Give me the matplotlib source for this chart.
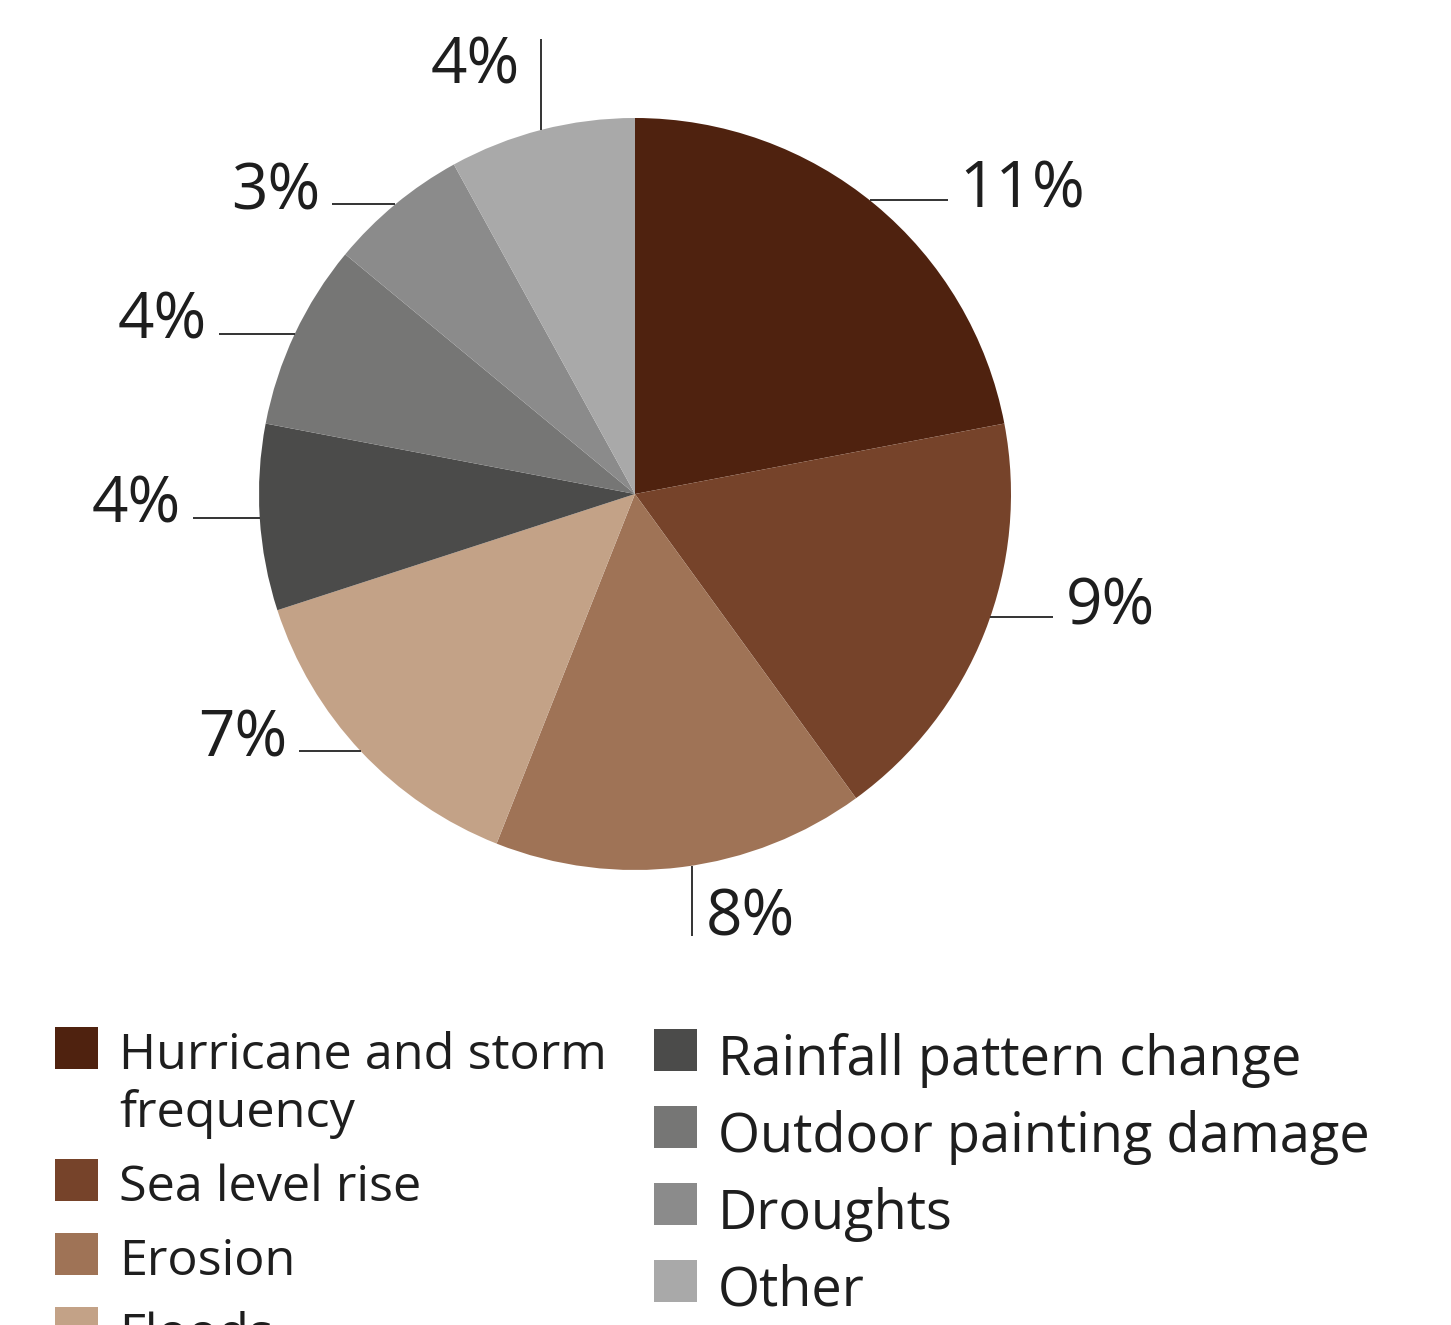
import numpy as np
import matplotlib
matplotlib.use('Agg')
import matplotlib.pyplot as plt
from matplotlib.patches import Rectangle

# Data (percent of respondents)
left_labels = ['Hurricane and storm\nfrequency', 'Sea level rise', 'Erosion', 'Floods']
right_labels = ['Rainfall pattern change', 'Outdoor painting damage', 'Droughts', 'Other']
left_values = [11, 9, 8, 7]
right_values = [4, 4, 3, 4]
left_colors = ['#4f220f', '#76432a', '#9f7356', '#c3a287']
right_colors = ['#4b4b4a', '#767675', '#8b8b8b', '#a9a9a9']

values = left_values + right_values
colors = left_colors + right_colors

# leader line style per slice: direction, length, angle nudge (pixels / degrees)
leaders = [('r', 78, 1.0), ('r', 63, 2.5), ('d', 70, 1.5), ('l', 62, 0),
           ('l', 67, 0), ('l', 76, 0), ('l', 63, 0), ('u', 91, 0)]

plt.rcParams['font.family'] = ['Open Sans', 'DejaVu Sans']
W, H = 1451, 1325
fig = plt.figure(figsize=(W / 100, H / 100), dpi=100)
ax = fig.add_axes([0, 0, 1, 1])

cx, cy, R = 635, H - 494, 376
wedges, _ = ax.pie(values, colors=colors, startangle=90, counterclock=False,
                   center=(cx, cy), radius=R, wedgeprops=dict(linewidth=0))
ax.set_xlim(0, W)
ax.set_ylim(0, H)
ax.set_aspect('auto')
ax.axis('off')

txt = '#1e1e1e'
pfs = 46
for w, v, (d, L, nudge) in zip(wedges, values, leaders):
    ang = np.deg2rad((w.theta1 + w.theta2) / 2 + nudge)
    x0, y0 = cx + R * np.cos(ang), cy + R * np.sin(ang)
    lab = f'{v}%'
    if d == 'r':
        x1, y1 = x0 + L, y0
        ax.text(x1 + 12, y1 - 7, lab, ha='left', va='baseline', fontsize=pfs, color=txt)
    elif d == 'l':
        x1, y1 = x0 - L, y0
        ax.text(x1 - 12, y1 - 5, lab, ha='right', va='baseline', fontsize=pfs, color=txt)
    elif d == 'd':
        x1, y1 = x0, y0 - L
        ax.text(x1 + 14, y1, lab, ha='left', va='baseline', fontsize=pfs, color=txt)
    else:
        x1, y1 = x0, y0 + L
        ax.text(x1 - 22, y1 - 45, lab, ha='right', va='baseline', fontsize=pfs, color=txt)
    ax.plot([x0, x1], [y0, y1], color='#333333', lw=1.4, solid_capstyle='butt')

# legend, drawn by hand in two columns
def legend_col(labels, cols, x_sq, top, step, base_off, fs):
    y = top
    for lab, c in zip(labels, cols):
        ax.add_patch(Rectangle((x_sq, H - y - 42), 43, 42, color=c, lw=0))
        lines = lab.split('\n')
        for i, line in enumerate(lines):
            ax.text(x_sq + 64, H - (y + 42 + base_off + i * 58), line,
                    ha='left', va='baseline', fontsize=fs, color=txt)
        y += step + 58 * (len(lines) - 1)

legend_col(left_labels, left_colors, 55, 1027, 74, 0, 36.3)
legend_col(right_labels, right_colors, 654, 1029, 77, 4, 39)

fig.savefig('out.png', dpi=100)
